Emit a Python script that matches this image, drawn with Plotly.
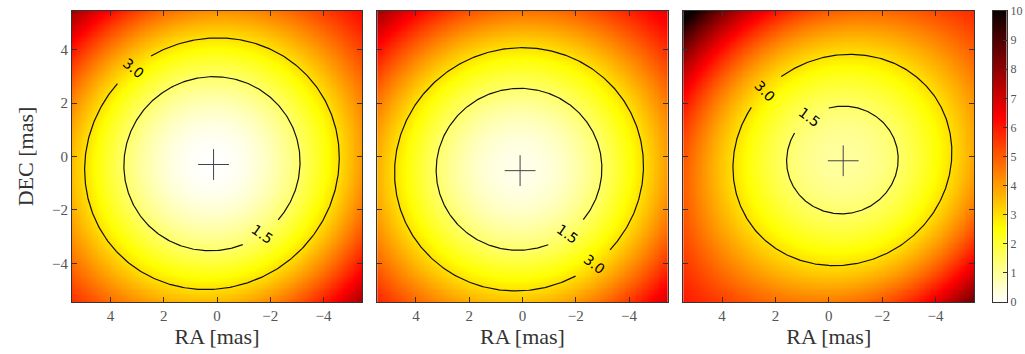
import numpy as np
import plotly.graph_objects as go

# ---- values ----
ra_center = [0.19, 0.13, -0.51]        # centre of the chi2 bowl, RA [mas]
dec_center = [-0.27, -0.48, -0.13]     # centre of the chi2 bowl, DEC [mas]
chi2_min = [0.00, 0.20, 0.95]          # minimum value in each map
r15_ra = [3.31, 3.11, 2.09]            # RA semi-axis of the 1.5 contour
r30_ra = [4.78, 4.67, 4.09]            # RA semi-axis of the 3.0 contour
dec_axis_ratio = [0.985, 0.975, 0.965] # DEC/RA semi-axis ratio
corner_skew = [0.00049, 0.0003, 0.0010] # diagonal asymmetry of the far field
best_ra = [0.13, 0.09, -0.54]          # '+' marker position RA
best_dec = [-0.30, -0.53, -0.16]       # '+' marker position DEC
contour_levels = [1.5, 3.0]
contour_labels = ['1.5', '3.0']
x_tick_vals = [4, 2, 0, -2, -4]
y_tick_vals = [4, 2, 0, -2, -4]
cbar_tick_vals = [0, 1, 2, 3, 4, 5, 6, 7, 8, 9, 10]
cbar_range = [0, 10]
half_width = 5.45

# ---- styling / placement ----
# polar angle (deg) of each contour label, per panel, per level [1.5, 3.0]
LABEL_ANGLE = [[-125, 50.7], [-126, -127.6], [53, 42.8]]
LABEL_GAP_PX = 44
PX_PER_UNIT = 26.7

hot_r = [[0.0, 'rgb(255,255,255)'], [0.253968, 'rgb(255,255,0)'],
         [0.634921, 'rgb(255,0,0)'], [1.0, 'rgb(11,0,0)']]

grid = np.linspace(-half_width, half_width, 241)
RA, DEC = np.meshgrid(grid, grid)

fig = go.Figure()
domains = [[0.0, 0.3102], [0.3265, 0.6371], [0.6538, 0.9650]]
cbar_domain = [0.9845, 1.0]
serif = 'Liberation Serif, DejaVu Serif, serif'
annotations = []


def params(i):
    m = chi2_min[i]
    A, B = contour_levels[0] - m, contour_levels[1] - m
    u, w = r15_ra[i] ** 2, r30_ra[i] ** 2
    q = (B / A) * (u / w)
    s = (1 - q) / (w - q * u)
    k = A / (u * (1 - s * u))
    return m, k, s


def contour_points(i, level, theta):
    m, k, s = params(i)
    a = corner_skew[i] * np.cos(theta) * np.sin(theta) - k * s
    c = m - level
    R = (-k + np.sqrt(k * k - 4 * a * c)) / (2 * a)
    r = np.sqrt(R)
    return (ra_center[i] + r * np.cos(theta),
            dec_center[i] + r * np.sin(theta) * dec_axis_ratio[i], r)


axis_common = dict(showline=True, linecolor='#333', linewidth=1,
                   mirror='ticks', ticks='inside', ticklen=5,
                   tickcolor='#333', showgrid=False, zeroline=False,
                   automargin=False,
                   tickfont=dict(family=serif, size=15, color='#555'))

for i in range(3):
    m, k, s = params(i)
    dx = RA - ra_center[i]
    dy = (DEC - dec_center[i]) / dec_axis_ratio[i]
    r2 = dx ** 2 + dy ** 2
    z = m + k * r2 * (1 - s * r2) + corner_skew[i] * dx * dy * r2

    xa = 'x' if i == 0 else f'x{i+1}'
    ya = 'y' if i == 0 else f'y{i+1}'
    fig.add_trace(go.Heatmap(
        x=grid, y=grid, z=z, zmin=cbar_range[0], zmax=cbar_range[1],
        colorscale=hot_r, xaxis=xa, yaxis=ya, showscale=False,
        hoverinfo='skip'))

    for j, level in enumerate(contour_levels):
        th0 = np.radians(LABEL_ANGLE[i][j])
        _, _, r_lab = contour_points(i, level, np.array([th0]))
        gap = LABEL_GAP_PX / (PX_PER_UNIT * r_lab[0])
        theta = np.linspace(th0 + gap / 2, th0 + 2 * np.pi - gap / 2, 400)
        cx, cy, _ = contour_points(i, level, theta)
        fig.add_trace(go.Scatter(x=cx, y=cy, mode='lines', xaxis=xa, yaxis=ya,
                                 hoverinfo='skip', showlegend=False,
                                 line=dict(color='#111', width=1.2)))
        lx, ly, _ = contour_points(i, level, np.array([th0]))
        tx1, ty1, _ = contour_points(i, level, np.array([th0 - 0.01]))
        tx2, ty2, _ = contour_points(i, level, np.array([th0 + 0.01]))
        ang = np.degrees(np.arctan2(ty2[0] - ty1[0], tx2[0] - tx1[0]))
        if ang > 90:
            ang -= 180
        if ang <= -90:
            ang += 180
        annotations.append(dict(x=lx[0], y=ly[0], xref=xa, yref=ya,
                                text=contour_labels[j], showarrow=False,
                                textangle=-ang,
                                font=dict(family='DejaVu Sans', size=14,
                                          color='black')))

    fig.add_trace(go.Scatter(
        x=[best_ra[i]], y=[best_dec[i]], mode='markers', xaxis=xa, yaxis=ya,
        showlegend=False, hoverinfo='skip',
        marker=dict(symbol='cross-thin', size=22, color='#444',
                    line=dict(width=1, color='#444'))))

    fig.layout[('xaxis' if i == 0 else f'xaxis{i+1}')] = dict(
        domain=domains[i], anchor=ya, range=[half_width, -half_width],
        tickvals=x_tick_vals,
        title=dict(text='RA [mas]', standoff=1,
                   font=dict(family=serif, size=22, color='#333')),
        **axis_common)
    ydict = dict(domain=[0, 1], anchor=xa, range=[-half_width, half_width],
                 tickvals=y_tick_vals, showticklabels=(i == 0), **axis_common)
    if i == 0:
        ydict['title'] = dict(text='DEC [mas]', standoff=12,
                              font=dict(family=serif, size=22, color='#333'))
    fig.layout[('yaxis' if i == 0 else f'yaxis{i+1}')] = ydict

# colour bar drawn as its own small axis so it sits exactly where wanted
cb_vals = np.linspace(cbar_range[0], cbar_range[1], 401)
fig.add_trace(go.Heatmap(x=[0], y=cb_vals, z=cb_vals.reshape(-1, 1),
                         zmin=cbar_range[0], zmax=cbar_range[1],
                         colorscale=hot_r, showscale=False,
                         xaxis='x4', yaxis='y4', hoverinfo='skip'))
fig.layout['xaxis4'] = dict(domain=cbar_domain, anchor='y4', range=[-0.5, 0.5],
                            showline=True, linecolor='#333', linewidth=1,
                            mirror=True, ticks='', showticklabels=False,
                            showgrid=False, zeroline=False, automargin=False)
fig.layout['yaxis4'] = dict(domain=[0, 1], anchor='x4', side='right',
                            range=cbar_range, tickvals=cbar_tick_vals,
                            showline=True, linecolor='#333', linewidth=1,
                            mirror=True, ticks='inside', ticklen=4,
                            tickcolor='#333', showgrid=False, zeroline=False,
                            automargin=False,
                            tickfont=dict(family=serif, size=12, color='#555'))

fig.update_layout(width=1025, height=354, showlegend=False,
                  annotations=annotations,
                  margin=dict(l=72, r=18, t=11, b=52),
                  paper_bgcolor='white', plot_bgcolor='white')
fig.write_html('out.html', config={'displayModeBar': False},
               post_script="document.body.style.margin='0px';")
